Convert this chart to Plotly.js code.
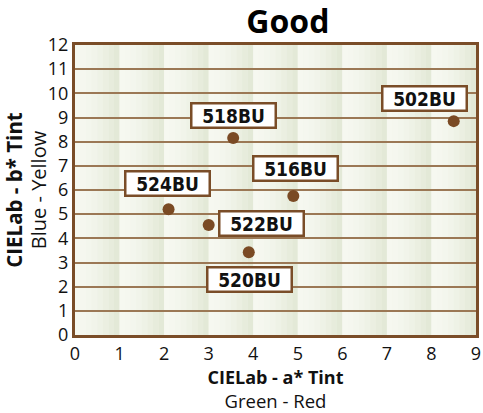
<!DOCTYPE html>
<html>
<head>
<meta charset="utf-8">
<script src="https://cdn.plot.ly/plotly-3.0.1.min.js"></script>
<style>html,body{margin:0;padding:0;background:#fff;}#chart{width:483px;height:413px;}</style>
</head>
<body>
<div id="chart"></div>
<script>
const names = ["524BU", "522BU", "520BU", "518BU", "516BU", "502BU"];
const aValues = [2.1, 3.0, 3.9, 3.55, 4.9, 8.5];
const bValues = [5.2, 4.55, 3.42, 8.15, 5.75, 8.85];
const xTicks = [0, 1, 2, 3, 4, 5, 6, 7, 8, 9];
const yTicks = [0, 1, 2, 3, 4, 5, 6, 7, 8, 9, 10, 11, 12];
// label offsets (px) relative to each point
const labelShift = {
  "524BU": [-1, 26], "522BU": [53, 2], "520BU": [1, -27],
  "518BU": [0, 23], "516BU": [2, 28], "502BU": [-29, 23]
};

const brown = "#7a4d28";
const grid = "#9b7855";

// background gradient bands per column
const shapes = [];
const strips = 8;
const light = [246, 248, 240], dark = [227, 233, 215];
for (let i = 0; i < xTicks.length - 1; i++) {
  for (let s = 0; s < strips; s++) {
    const t = Math.pow(s / (strips - 1), 1.6);
    const c = light.map((v, k) => Math.round(v + (dark[k] - v) * t));
    shapes.push({
      type: "rect", xref: "x", yref: "y", layer: "below",
      x0: xTicks[i] + s / strips, x1: xTicks[i] + (s + 1) / strips + 0.002,
      y0: yTicks[0], y1: yTicks[yTicks.length - 1],
      fillcolor: `rgb(${c[0]},${c[1]},${c[2]})`, line: {width: 0}
    });
  }
}

const annotations = names.map((n, i) => ({
  x: aValues[i], y: bValues[i], xref: "x", yref: "y",
  text: "<b>" + n + "</b>", showarrow: false,
  xshift: labelShift[n][0], yshift: labelShift[n][1],
  font: {family: "Liberation Sans Narrow, DejaVu Sans Condensed, sans-serif", size: 19, color: "#111"},
  bgcolor: "#ffffff", bordercolor: brown, borderwidth: 2.5, borderpad: 1,
  width: 80, height: 20, align: "center", valign: "middle"
}));

const trace = {
  x: aValues, y: bValues, type: "scatter", mode: "markers",
  marker: {color: "#7a4a24", size: 12},
  text: names, hoverinfo: "text"
};

const layout = {
  width: 483, height: 413,
  margin: {l: 75, r: 7, t: 45, b: 78},
  paper_bgcolor: "#fff", plot_bgcolor: "#f3f5ec",
  showlegend: false,
  title: {text: "<b>Good</b>", x: 0.596, xanchor: "center", y: 0.948, yanchor: "middle",
    font: {family: "Open Sans, sans-serif", size: 32, color: "#000"}},
  xaxis: {
    range: [0, 9], tickvals: xTicks, ticktext: xTicks.map(String),
    showgrid: false, zeroline: false, showline: true, linecolor: brown, linewidth: 3, mirror: true,
    ticks: "", ticklen: 0,
    tickfont: {family: "Open Sans, sans-serif", size: 18, color: "#111"},
    title: {text: "<span style=\"font-size:18px\"><b>CIELab - a* Tint</b></span><br><span style=\"font-size:18.5px\">Green - Red</span>", standoff: 7,
      font: {family: "Open Sans, sans-serif", size: 18.5, color: "#111"}}
  },
  yaxis: {
    range: [0, 12], tickvals: yTicks, ticktext: yTicks.map(String),
    showgrid: true, gridcolor: grid, gridwidth: 2,
    zeroline: false, showline: true, linecolor: brown, linewidth: 3, mirror: true,
    ticks: "", ticklen: 0,
    tickfont: {family: "Open Sans, sans-serif", size: 18, color: "#111"},
    title: {text: "<span style=\"font-size:20.5px\"><b>CIELab - b* Tint</b></span><br><span style=\"font-size:20px\">Blue - Yellow</span>", standoff: 3,
      font: {family: "Open Sans, sans-serif", size: 18.5, color: "#111"}}
  },
  shapes: shapes,
  annotations: annotations
};

Plotly.newPlot("chart", [trace], layout, {displayModeBar: false, staticPlot: true});
</script>
</body>
</html>
